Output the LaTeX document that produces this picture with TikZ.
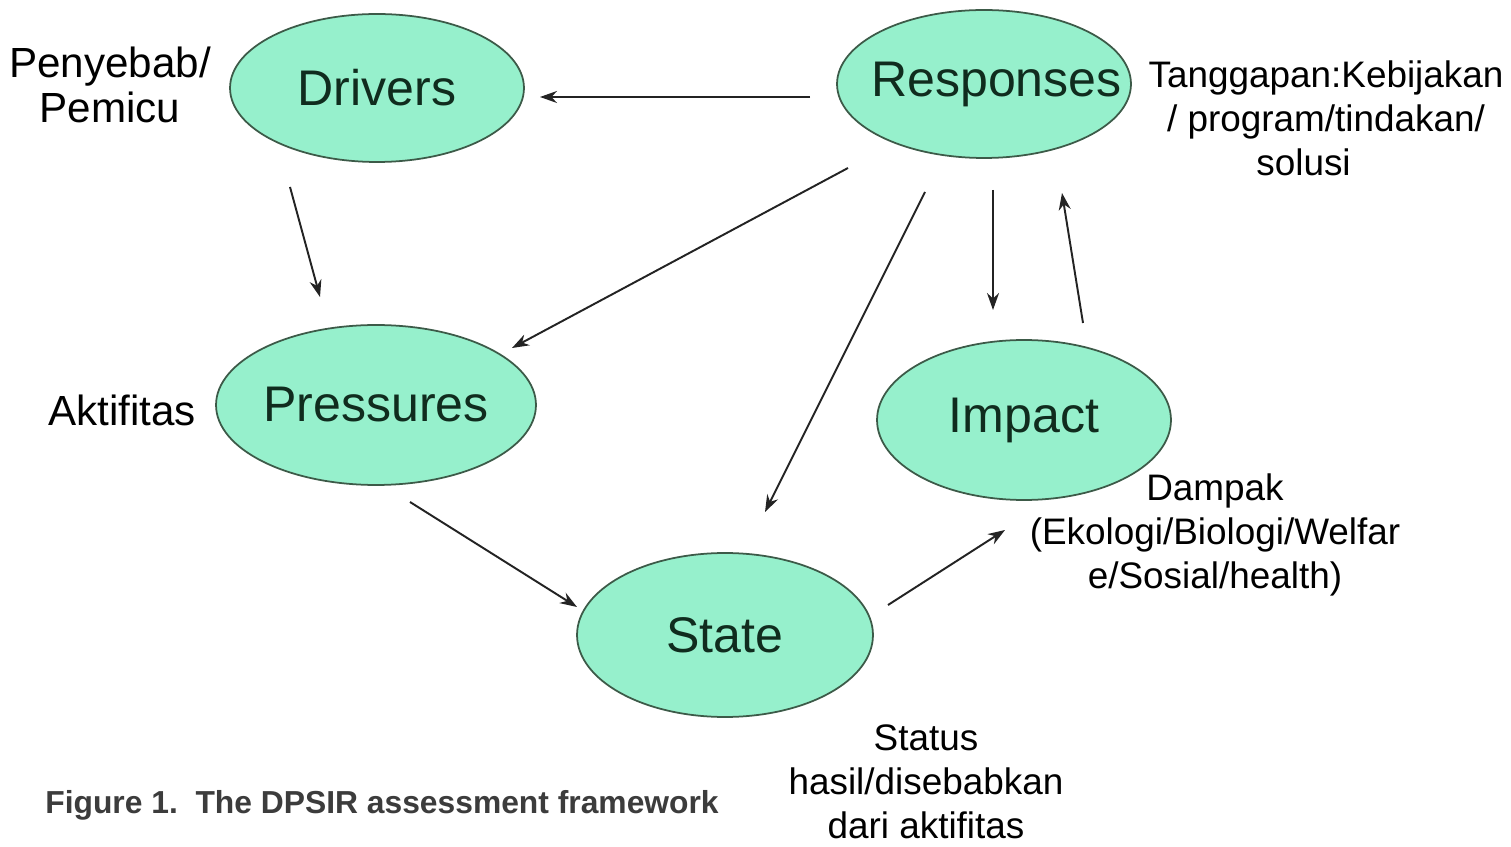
\documentclass[tikz,border=0pt]{standalone}
\usepackage{fontspec}
\setmainfont{Liberation Sans}
\usetikzlibrary{shapes.geometric,arrows.meta}
\definecolor{ellfill}{RGB}{150,240,204}
\definecolor{elldraw}{RGB}{60,90,72}
\definecolor{elltext}{RGB}{16,44,30}
\definecolor{arrowc}{RGB}{35,35,35}
\definecolor{capc}{RGB}{60,60,60}
\begin{document}
\begin{tikzpicture}[x=0.02cm,y=-0.02cm,
  elli/.style={ellipse, draw=elldraw, line width=1pt, fill=ellfill, inner sep=0pt, text=elltext, font=\fontsize{28.5}{34}\selectfont},
  conn/.style={draw=arrowc, line width=1.1pt, -{Stealth[length=0.34cm,width=0.24cm]}},
  lab/.style={align=center, font=\fontsize{21}{25}\selectfont, inner sep=0pt},
  lablg/.style={align=center, font=\fontsize{24}{25.5}\selectfont, inner sep=0pt}]
\useasboundingbox[fill=white] (0,0) rectangle (1511,847);

% ellipses
\node[elli, minimum width=5.88cm, minimum height=2.96cm] (drv) at (377,88) {\makebox[0pt]{Drivers}};
\node[elli, minimum width=5.88cm, minimum height=2.96cm] (resp) at (984,84) {\makebox[0pt]{\hspace*{0.5cm}Responses}};
\node[elli, minimum width=6.4cm, minimum height=3.2cm] (pres) at (376,405) {\makebox[0pt]{Pressures}};
\node[elli, minimum width=5.88cm, minimum height=3.2cm] (imp) at (1024,420) {\makebox[0pt]{Impact}};
\node[elli, minimum width=5.92cm, minimum height=3.28cm] (st) at (725,635) {\makebox[0pt]{State}};

% connector end points
\coordinate (a1s) at (810,97);  \coordinate (a1e) at (540,97);
\coordinate (a2s) at (290,187); \coordinate (a2e) at (320,297);
\coordinate (a3s) at (848,168); \coordinate (a3e) at (512,348);
\coordinate (a4s) at (925,192); \coordinate (a4e) at (765,512);
\coordinate (a5s) at (993,190); \coordinate (a5e) at (993,310);
\coordinate (a6s) at (1083,323); \coordinate (a6e) at (1062,193);
\coordinate (a7s) at (410,502); \coordinate (a7e) at (577,607);
\coordinate (a8s) at (888,605); \coordinate (a8e) at (1005,530);

\draw[conn] (a1s) -- (a1e);
\draw[conn] (a2s) -- (a2e);
\draw[conn] (a3s) -- (a3e);
\draw[conn] (a4s) -- (a4e);
\draw[conn] (a5s) -- (a5e);
\draw[conn] (a6s) -- (a6e);
\draw[conn] (a7s) -- (a7e);
\draw[conn] (a8s) -- (a8e);

% labels
\node[lablg] (lpen) at (110,85) {Penyebab/\\Pemicu};
\node[lablg] (lakt) at (122,410) {Aktifitas};
\node[lab] (ltang) at (1326,118) {Tanggapan:Kebijakan\\/ program/tindakan/\\solusi\hspace*{0.9cm}};
\node[lab] (ldamp) at (1215,535) {Dampak\\(Ekologi/Biologi/Welfar\\e/Sosial/health)};
\node[lab] (lstat) at (926,782) {Status\\hasil/disebabkan\\dari aktifitas};
\node[anchor=west, inner sep=0pt, text=capc, font=\bfseries\fontsize{18.1}{20}\selectfont] (cap) at (45,805) {Figure 1.\ \ The DPSIR assessment framework};
\end{tikzpicture}
\end{document}
